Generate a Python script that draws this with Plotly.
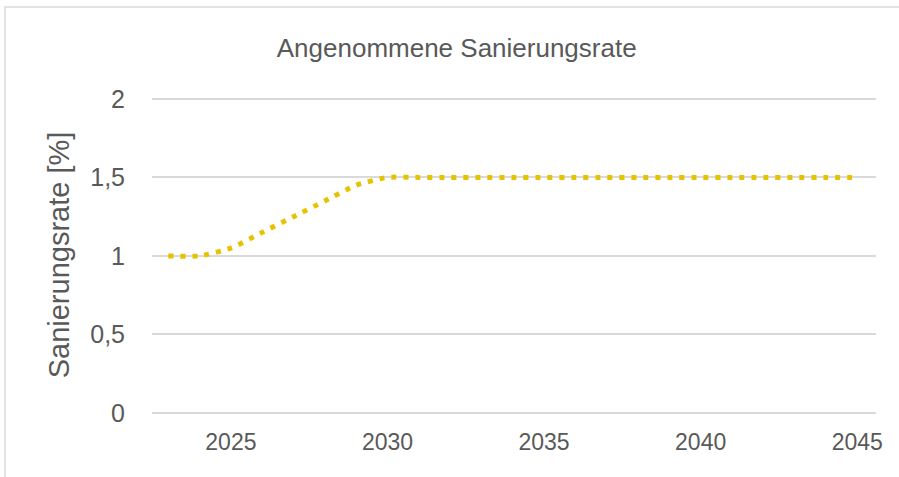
import plotly.graph_objects as go

years = list(range(2023, 2046))
rate = [1.0, 1.0, 1.05, 1.15, 1.25, 1.35, 1.45, 1.5] + [1.5] * 15

font = "Liberation Sans, Arial, sans-serif"
grey = "#595959"

fig = go.Figure()
fig.add_trace(go.Scatter(
    x=years, y=rate, mode="lines",
    line=dict(color="#E6C300", width=5, dash="5px,7px", shape="spline", smoothing=0.6),
    hoverinfo="skip",
))

fig.update_layout(
    width=899, height=477,
    margin=dict(l=152, r=23, t=97, b=64),
    paper_bgcolor="white", plot_bgcolor="white",
    showlegend=False,
    font=dict(family=font, color=grey),
    title=dict(text="Angenommene Sanierungsrate", x=0.508, xanchor="center",
               y=1 - 48 / 477, yanchor="middle", yref="container",
               font=dict(size=26, color=grey)),
)
fig.update_xaxes(
    range=[2022.48, 2045.6], tickvals=[2025, 2030, 2035, 2040, 2045],
    showgrid=False, zeroline=False, showline=False,
    tickfont=dict(size=23, color=grey), ticklabelstandoff=13,
)
fig.update_yaxes(
    range=[0, 2.012], tickvals=[0, 0.5, 1, 1.5, 2], ticktext=["0", "0,5", "1", "1,5", "2"],
    showgrid=True, gridcolor="#D9D9D9", gridwidth=2,
    zeroline=True, zerolinecolor="#D9D9D9", zerolinewidth=2, showline=False,
    tickfont=dict(size=25, color=grey), ticklabelstandoff=26,
    title=dict(text="Sanierungsrate [%]", font=dict(size=29, color=grey), standoff=12),
)
# outer chart frame
fig.add_shape(type="rect", xref="paper", yref="paper",
              x0=(5 - 152) / 724, x1=1.2, y0=-0.4, y1=(413 - 7) / 316,
              line=dict(color="#D9D9D9", width=1.5), layer="below")

fig.write_html("out.html", config={"displayModeBar": False},
               post_script="document.body.style.margin='0';")
